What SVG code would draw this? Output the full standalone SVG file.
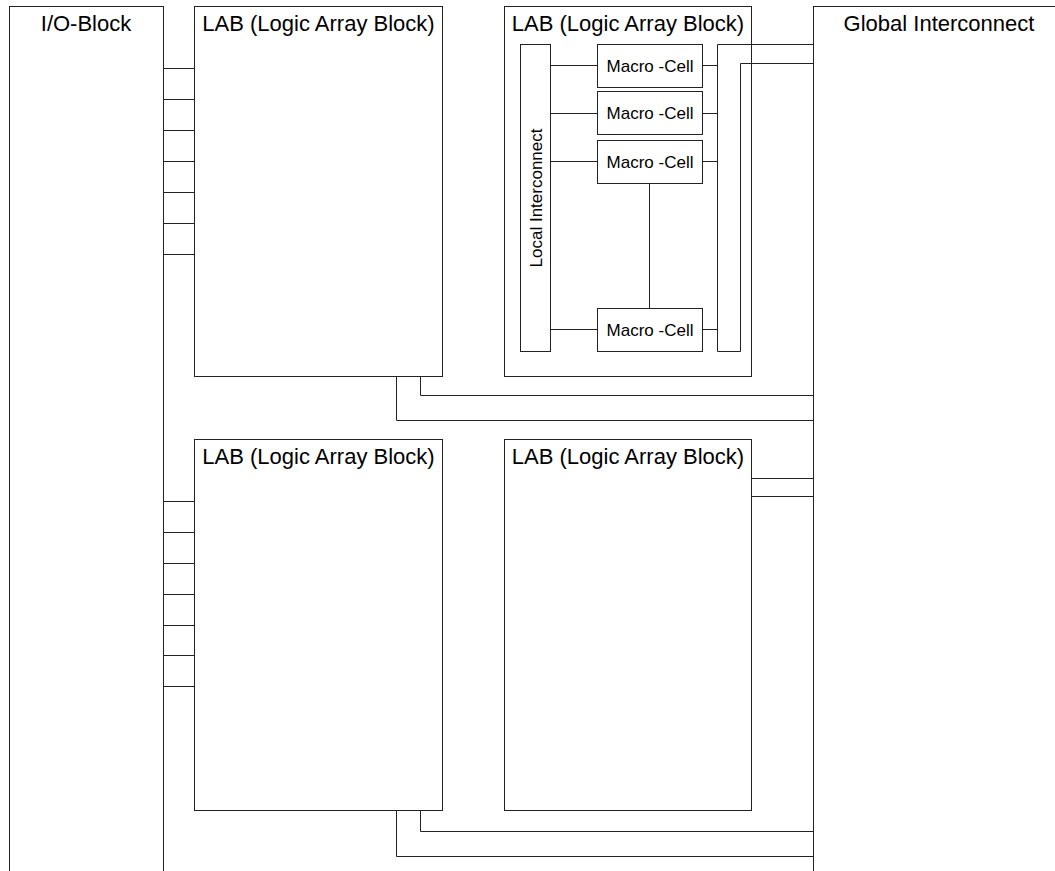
<svg xmlns="http://www.w3.org/2000/svg" width="1055" height="871" viewBox="0 0 1055 871">
<style>
rect, polyline, line { fill: none; stroke: #222; stroke-width: 1; }
rect.b { fill: #fff; }
rect.bg { fill: #fff; stroke: none; }
text { font-family: "Liberation Sans", Arial, sans-serif; fill: #000; text-anchor: middle; }
.t { font-size: 22px; }
.s { font-size: 17px; }
</style>
<rect class="bg" x="0" y="0" width="1055" height="871"/>
<g id="io-block"><rect class="b" x="9.5" y="6.5" width="154" height="900"/><text class="t" x="86" y="31">I/O-Block</text></g>
<g id="global-interconnect"><rect class="b" x="813.5" y="6.5" width="300" height="900"/><text class="t" x="939" y="31">Global Interconnect</text></g>
<g id="lab1"><rect class="b" x="194.5" y="6.5" width="248" height="370"/><text class="t" x="318.5" y="31">LAB (Logic Array Block)</text></g>
<g id="lab2"><rect class="b" x="504.5" y="6.5" width="247" height="370"/><text class="t" x="628" y="31">LAB (Logic Array Block)</text></g>
<g id="lab3"><rect class="b" x="194.5" y="439.5" width="248" height="371"/><text class="t" x="318.5" y="464">LAB (Logic Array Block)</text></g>
<g id="lab4"><rect class="b" x="504.5" y="439.5" width="247" height="371"/><text class="t" x="628" y="464">LAB (Logic Array Block)</text></g>
<g id="local-interconnect"><rect class="b" x="520.5" y="44.5" width="30" height="307"/><text class="s" transform="translate(541.5,198) rotate(-90)">Local Interconnect</text></g>
<g id="mc1"><rect class="b" x="597.5" y="44.5" width="105" height="43"/><text class="s" x="650" y="71.5">Macro -Cell</text></g>
<g id="mc2"><rect class="b" x="597.5" y="91.5" width="105" height="43"/><text class="s" x="650" y="119">Macro -Cell</text></g>
<g id="mc3"><rect class="b" x="597.5" y="140.5" width="105" height="43"/><text class="s" x="650" y="167.5">Macro -Cell</text></g>
<g id="mc4"><rect class="b" x="597.5" y="308.5" width="105" height="43"/><text class="s" x="650" y="335.5">Macro -Cell</text></g>
<g id="connectors">
<line x1="163.5" y1="68.5" x2="194.5" y2="68.5"/>
<line x1="163.5" y1="99.5" x2="194.5" y2="99.5"/>
<line x1="163.5" y1="130.5" x2="194.5" y2="130.5"/>
<line x1="163.5" y1="161.5" x2="194.5" y2="161.5"/>
<line x1="163.5" y1="192.5" x2="194.5" y2="192.5"/>
<line x1="163.5" y1="223.5" x2="194.5" y2="223.5"/>
<line x1="163.5" y1="254.5" x2="194.5" y2="254.5"/>
<line x1="163.5" y1="501.5" x2="194.5" y2="501.5"/>
<line x1="163.5" y1="532.5" x2="194.5" y2="532.5"/>
<line x1="163.5" y1="563.5" x2="194.5" y2="563.5"/>
<line x1="163.5" y1="594.5" x2="194.5" y2="594.5"/>
<line x1="163.5" y1="625.5" x2="194.5" y2="625.5"/>
<line x1="163.5" y1="655.5" x2="194.5" y2="655.5"/>
<line x1="163.5" y1="686.5" x2="194.5" y2="686.5"/>
<polyline points="420.5,376.5 420.5,395.5 813.5,395.5"/>
<polyline points="396.5,376.5 396.5,420.5 813.5,420.5"/>
<polyline points="420.5,810.5 420.5,831.5 813.5,831.5"/>
<polyline points="396.5,810.5 396.5,856.5 813.5,856.5"/>
<line x1="751.5" y1="478.5" x2="813.5" y2="478.5"/>
<line x1="751.5" y1="496.5" x2="813.5" y2="496.5"/>
<line x1="550.5" y1="65.5" x2="597.5" y2="65.5"/>
<line x1="550.5" y1="113.5" x2="597.5" y2="113.5"/>
<line x1="550.5" y1="161.5" x2="597.5" y2="161.5"/>
<line x1="550.5" y1="329.5" x2="597.5" y2="329.5"/>
<line x1="702.5" y1="65.5" x2="717.5" y2="65.5"/>
<line x1="702.5" y1="113.5" x2="717.5" y2="113.5"/>
<line x1="702.5" y1="161.5" x2="717.5" y2="161.5"/>
<line x1="702.5" y1="329.5" x2="717.5" y2="329.5"/>
<line x1="649.5" y1="183.5" x2="649.5" y2="308.5"/>
<polyline points="813.5,44.5 717.5,44.5 717.5,351.5 740.5,351.5 740.5,63.5 813.5,63.5"/>
</g>
</svg>
